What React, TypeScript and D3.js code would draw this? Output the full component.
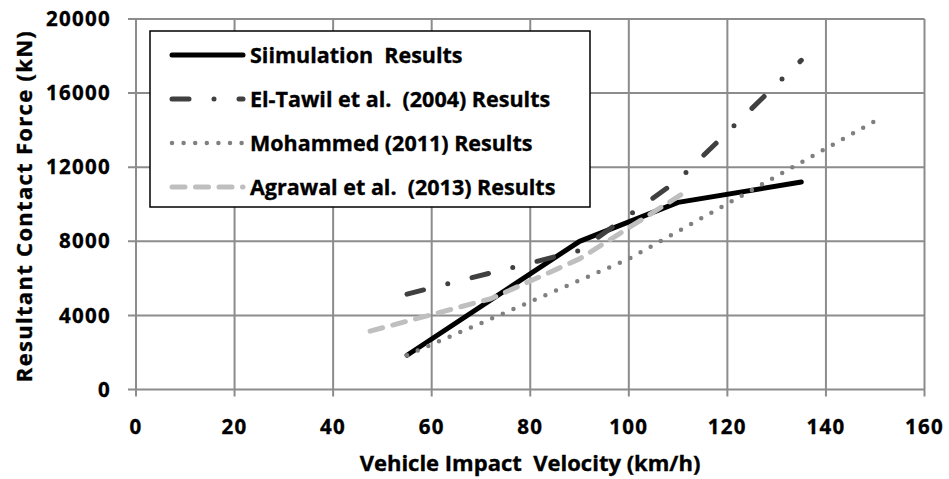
import React from 'react';
import * as d3 from 'd3';

// velocity (km/h) vs resultant contact force (kN)
const simVel = [55, 90, 110, 135];
const simForce = [1850, 8000, 10100, 11200];

const tawilVel = [55, 90, 110, 135];
const tawilForce = [5150, 7500, 11300, 17770];

const mohVel = [55, 100, 150];
const mohForce = [1850, 7050, 14500];

const agrVel = [47.5, 72, 90, 112];
const agrForce = [3150, 4900, 7050, 10750];

const xTicks = [0, 20, 40, 60, 80, 100, 120, 140, 160];
const yTicks = [0, 4000, 8000, 12000, 16000, 20000];

const seriesNames = [
  'Siimulation  Results',
  'El-Tawil et al.  (2004) Results',
  'Mohammed (2011) Results',
  'Agrawal et al.  (2013) Results',
];

const font = "'Open Sans', 'DejaVu Sans', sans-serif";
const gridColor = '#8c8c8c';
const pre = { whiteSpace: 'pre' } as React.CSSProperties;

export default function App() {
  const width = 949, height = 479;
  const x = d3.scaleLinear().domain([0, 160]).range([136, 924.5]);
  const y = d3.scaleLinear().domain([0, 20000]).range([389.5, 19]);

  const line = d3.line<[number, number]>()
    .x(d => x(d[0]))
    .y(d => y(d[1]));

  const zip = (a: number[], b: number[]) => a.map((v, i) => [v, b[i]] as [number, number]);

  const styles = [
    { stroke: '#000000', width: 5, dash: 'none' },
    { stroke: '#404040', width: 5, dash: '17 25 0 25' },
    { stroke: '#808080', width: 4.5, dash: '0 11.6' },
    { stroke: '#bfbfbf', width: 5, dash: '13 10.5' },
  ];
  const series = [
    zip(simVel, simForce),
    zip(tawilVel, tawilForce),
    zip(mohVel, mohForce),
    zip(agrVel, agrForce),
  ];

  // legend placement
  const lg = { x: 150, y: 31, w: 440, h: 176 };
  const rowY = (i: number) => 55 + i * 44;

  return (
    <svg width={width} height={height} style={{ position: 'absolute', left: 0, top: 0 }}
      fontFamily={font}>
      <rect width={width} height={height} fill="#fff" />
      {/* grid */}
      {xTicks.map(t => (
        <line key={'gx' + t} x1={x(t)} x2={x(t)} y1={y(20000)} y2={y(0) + 7}
          stroke={gridColor} strokeWidth={2} />
      ))}
      {yTicks.map(t => (
        <line key={'gy' + t} x1={x(0) - 8} x2={x(160)} y1={y(t)} y2={y(t)}
          stroke={gridColor} strokeWidth={2} />
      ))}
      <g fontWeight="bold" stroke="#000" strokeWidth={0.35}>
        {/* tick labels */}
        {yTicks.map(t => (
          <text key={'ly' + t} x={111} y={y(t)} dy="0.35em" textAnchor="end"
            fontSize={20.5} letterSpacing={1.3}>{t}</text>
        ))}
        {xTicks.map(t => (
          <text key={'lx' + t} x={x(t)} y={427} dy="0.35em" textAnchor="middle"
            fontSize={20.5} letterSpacing={1.3}>{t}</text>
        ))}
        <text x={530} y={463} dy="0.35em" textAnchor="middle" fontSize={22} style={pre}>
          {'Vehicle Impact  Velocity (km/h)'}
        </text>
        <text transform="translate(24,206) rotate(-90)" textAnchor="middle" dy="0.35em"
          fontSize={22} letterSpacing={1.3}>
          {'Resultant Contact Force (kN)'}
        </text>
      </g>
      {/* series */}
      {series.map((s, i) => (
        <path key={'s' + i} d={line(s) || ''} fill="none" stroke={styles[i].stroke}
          strokeWidth={styles[i].width} strokeDasharray={styles[i].dash}
          strokeLinecap="round" strokeLinejoin="round" />
      ))}
      {/* legend */}
      <rect x={lg.x} y={lg.y} width={lg.w} height={lg.h} fill="#fff" stroke="#000" strokeWidth={1.5} />
      {seriesNames.map((n, i) => (
        <g key={'lg' + i}>
          <line x1={172} x2={243} y1={rowY(i)} y2={rowY(i)} stroke={styles[i].stroke}
            strokeWidth={styles[i].width} strokeDasharray={styles[i].dash} strokeLinecap="round" />
          <text x={250} y={rowY(i)} dy="0.35em" fontSize={21.5} fontWeight="bold"
            stroke="#000" strokeWidth={0.35} style={pre}>{n}</text>
        </g>
      ))}
    </svg>
  );
}
